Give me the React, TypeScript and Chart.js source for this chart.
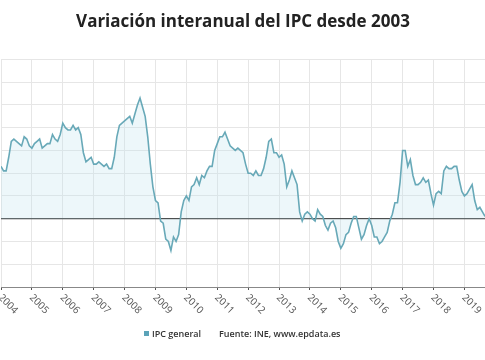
import React, { useEffect, useRef } from "react";
import { Chart, registerables } from "chart.js";

Chart.register(...registerables);

const title = "Variación interanual del IPC desde 2003";
const seriesName = "IPC general";
const sourceText = "Fuente: INE, www.epdata.es";
const yearLabels = ["2004", "2005", "2006", "2007", "2008", "2009", "2010", "2011", "2012", "2013", "2014", "2015", "2016", "2017", "2018", "2019"];

const ipc2004 = [2.3, 2.1, 2.1, 2.7, 3.4, 3.5, 3.4, 3.3, 3.2, 3.6, 3.5, 3.2];
const ipc2005 = [3.1, 3.3, 3.4, 3.5, 3.1, 3.2, 3.3, 3.3, 3.7, 3.5, 3.4, 3.7];
const ipc2006 = [4.2, 4.0, 3.9, 3.9, 4.1, 3.9, 4.0, 3.7, 2.9, 2.5, 2.6, 2.7];
const ipc2007 = [2.4, 2.4, 2.5, 2.4, 2.3, 2.4, 2.2, 2.2, 2.7, 3.6, 4.1, 4.2];
const ipc2008 = [4.3, 4.4, 4.5, 4.2, 4.6, 5.0, 5.3, 4.9, 4.5, 3.6, 2.4, 1.4];
const ipc2009 = [0.8, 0.7, -0.1, -0.2, -0.9, -1.0, -1.4, -0.8, -1.0, -0.7, 0.3, 0.8];
const ipc2010 = [1.0, 0.8, 1.4, 1.5, 1.8, 1.5, 1.9, 1.8, 2.1, 2.3, 2.3, 3.0];
const ipc2011 = [3.3, 3.6, 3.6, 3.8, 3.5, 3.2, 3.1, 3.0, 3.1, 3.0, 2.9, 2.4];
const ipc2012 = [2.0, 2.0, 1.9, 2.1, 1.9, 1.9, 2.2, 2.7, 3.4, 3.5, 2.9, 2.9];
const ipc2013 = [2.7, 2.8, 2.4, 1.4, 1.7, 2.1, 1.8, 1.5, 0.3, -0.1, 0.2, 0.3];
const ipc2014 = [0.2, 0.0, -0.1, 0.4, 0.2, 0.1, -0.3, -0.5, -0.2, -0.1, -0.4, -1.0];
const ipc2015 = [-1.3, -1.1, -0.7, -0.6, -0.2, 0.1, 0.1, -0.4, -0.9, -0.7, -0.3, 0.0];
const ipc2016 = [-0.3, -0.8, -0.8, -1.1, -1.0, -0.8, -0.6, -0.1, 0.2, 0.7, 0.7, 1.6];
const ipc2017 = [3.0, 3.0, 2.3, 2.6, 1.9, 1.5, 1.5, 1.6, 1.8, 1.6, 1.7, 1.1];
const ipc2018 = [0.6, 1.1, 1.2, 1.1, 2.1, 2.3, 2.2, 2.2, 2.3, 2.3, 1.7, 1.2];
const ipc2019 = [1.0, 1.1, 1.3, 1.5, 0.8, 0.4, 0.5, 0.3, 0.1];

const ipcValues = [
  ...ipc2004, ...ipc2005, ...ipc2006, ...ipc2007, ...ipc2008, ...ipc2009, ...ipc2010, ...ipc2011,
  ...ipc2012, ...ipc2013, ...ipc2014, ...ipc2015, ...ipc2016, ...ipc2017, ...ipc2018, ...ipc2019,
];

const LINE = "#68a9b8";

const overlayPlugin = {
  id: "overlay",
  afterDraw(chart: any) {
    const ctx = chart.ctx;
    const xs = chart.scales.x;
    ctx.save();
    ctx.font = "10px 'Open Sans'";
    ctx.fillStyle = "#555";
    ctx.textAlign = "left";
    ctx.textBaseline = "middle";
    xs.ticks.forEach((t: any) => {
      const label = yearLabels[Math.round(t.value / 12)];
      if (!label) return;
      const px = xs.getPixelForValue(t.value);
      ctx.save();
      ctx.translate(px - 1, xs.bottom + 6);
      ctx.rotate(Math.PI / 4);
      ctx.fillText(label, 0, 0);
      ctx.restore();
    });
    // legend
    ctx.font = "600 9px 'Open Sans'";
    ctx.fillStyle = "#5ba3b8";
    ctx.fillRect(144, 331, 5, 5);
    ctx.fillStyle = "#333";
    ctx.textBaseline = "middle";
    ctx.fillText(seriesName, 152, 334);
    ctx.fillText(sourceText, 219, 334);
    ctx.restore();
  },
};

export default function App() {
  const ref = useRef<HTMLCanvasElement>(null);
  useEffect(() => {
    if (!ref.current) return;
    const chart = new Chart(ref.current, {
      type: "line",
      data: {
        datasets: [
          {
            label: seriesName,
            data: ipcValues.map((v, i) => ({ x: i, y: v })),
            borderColor: LINE,
            borderWidth: 1.6,
            backgroundColor: "rgba(195, 228, 240, 0.3)",
            fill: "origin",
            pointRadius: 0,
            tension: 0,
          },
        ],
      },
      plugins: [overlayPlugin],
      options: {
        animation: false,
        responsive: true,
        maintainAspectRatio: false,
        layout: { padding: { left: 1, right: 0, top: 0, bottom: 70 } },
        plugins: {
          legend: { display: false },
          tooltip: { enabled: false },
          title: {
            display: true,
            text: title,
            color: "#222",
            font: { family: "'Open Sans'", size: 17, weight: "bold" },
            padding: { top: 12, bottom: 27 },
          },
        },
        scales: {
          x: {
            type: "linear",
            min: 0,
            max: ipcValues.length - 1,
            ticks: { display: false },
            afterBuildTicks: (scale: any) => {
              scale.ticks = yearLabels.map((_, i) => ({ value: i * 12 }));
            },
            grid: { color: "#e6e6e6", tickColor: "#555", tickLength: 3, drawTicks: true },
            border: { display: true, color: "#888", width: 1 },
          },
          y: {
            min: -3,
            max: 7,
            ticks: { display: false, stepSize: 1 },
            grid: {
              drawTicks: false,
              color: (c: any) => (c.tick && c.tick.value === 0 ? "#444" : "#e6e6e6"),
              lineWidth: (c: any) => (c.tick && c.tick.value === 0 ? 1.3 : 1),
            },
            border: { display: false },
          },
        },
      },
    });
    return () => chart.destroy();
  }, []);
  return (
    <div style={{ position: "absolute", left: 0, top: 0, width: 485, height: 360 }}>
      <canvas ref={ref} />
    </div>
  );
}
